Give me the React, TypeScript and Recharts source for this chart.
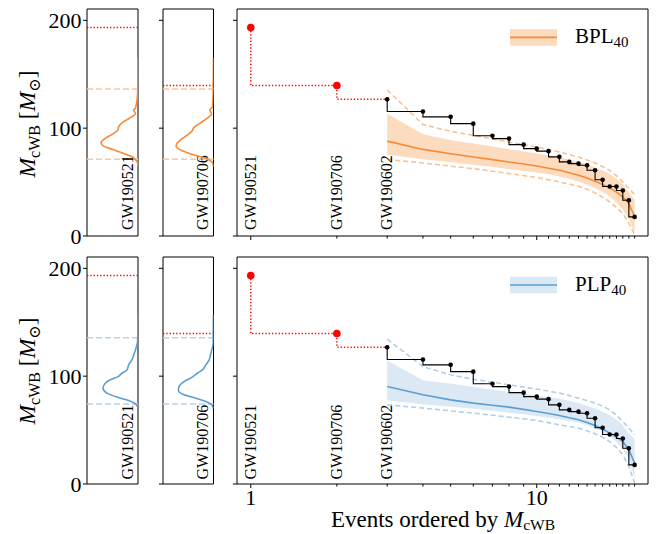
import React from 'react';
import {
  ComposedChart,
  ScatterChart,
  Scatter,
  Line,
  Area,
  XAxis,
  YAxis,
  ReferenceLine,
  ReferenceArea,
} from 'recharts';

const FONT = '"Liberation Serif", "DejaVu Serif", serif';

// events ordered by cWB mass (rank 1..22)
const EVENTS = [1, 2, 3, 4, 5, 6, 7, 8, 9, 10, 11, 12, 13, 14, 15, 16, 17, 18, 19, 20, 21, 22];
const EVENT_NAMES = ['GW190521', 'GW190706', 'GW190602'];
const M_CWB = [193.3, 139.5, 126.7, 115.4, 110.5, 104.2, 93.0, 90.3, 84.7, 81.0, 78.7, 73.4, 68.7, 67.1, 65.6, 61.0, 52.2, 45.9, 45.9, 42.2, 33.1, 17.7];

// BPL_40 prediction for ranks 3..22
const BPL_MED = [88.0, 80.3, 76.3, 73.2, 70.8, 68.6, 66.7, 64.9, 62.9, 60.9, 58.7, 56.3, 53.7, 50.8, 47.8, 44.6, 40.7, 36.3, 30.2, 17.8];
const BPL_LO = [74.8, 70.8, 68.0, 65.6, 63.5, 61.6, 60.0, 58.5, 56.7, 54.8, 52.5, 50.1, 47.2, 44.0, 40.3, 36.3, 30.5, 24.0, 14.8, 2.0];
const BPL_HI = [113.9, 94.8, 89.3, 86.2, 83.5, 81.0, 78.9, 76.9, 75.0, 73.2, 71.3, 69.3, 66.8, 64.0, 61.1, 57.9, 53.5, 48.7, 40.9, 34.0];
const BPL_DLO = [71.1, 67.7, 64.8, 62.5, 60.1, 57.9, 56.0, 54.2, 52.2, 50.1, 48.2, 46.2, 43.3, 40.0, 36.0, 31.7, 26.5, 21.0, 11.7, 1.0];
const BPL_DHI = [135.4, 103.4, 97.0, 93.3, 90.0, 87.1, 84.7, 82.5, 80.1, 77.8, 75.5, 73.2, 70.5, 67.7, 64.5, 60.9, 56.0, 50.1, 44.0, 38.5];

// PLP_40 prediction for ranks 3..22
const PLP_MED = [90.4, 82.7, 78.0, 75.0, 73.0, 71.3, 69.2, 67.2, 65.4, 63.5, 61.5, 59.5, 57.0, 54.3, 51.0, 47.2, 43.5, 39.4, 31.8, 19.4];
const PLP_LO = [77.1, 73.4, 71.2, 69.4, 67.5, 65.7, 64.1, 62.6, 61.0, 59.5, 58.0, 56.5, 54.0, 51.2, 48.0, 44.1, 38.5, 31.8, 22.5, 3.0];
const PLP_HI = [115.0, 96.6, 93.5, 90.4, 88.0, 85.7, 84.2, 82.7, 81.1, 79.6, 77.6, 75.6, 73.0, 70.4, 67.5, 64.2, 60.0, 54.9, 47.2, 42.0];
const PLP_DLO = [73.4, 70.4, 67.8, 65.7, 63.8, 62.0, 60.4, 58.9, 56.9, 54.9, 53.4, 51.9, 49.3, 46.6, 43.3, 39.4, 34.0, 27.1, 16.3, 1.0];
const PLP_DHI = [134.3, 108.9, 101.2, 97.2, 94.4, 91.9, 89.9, 88.0, 86.1, 84.3, 82.0, 79.6, 77.3, 75.0, 72.0, 68.8, 63.8, 58.0, 51.9, 45.6];

// predicted density of the two loudest masses (mass, relative density)
const BPL_PDF1_M = [64, 67.4, 71.1, 73.5, 76.6, 80.4, 83.4, 86.5, 90.5, 95.2, 98.2, 101.3, 106, 110.6, 113.7, 116.8, 118.3, 123, 132, 145, 165];
const BPL_PDF1_D = [0, 0.006, 0.052, 0.118, 0.281, 0.51, 0.673, 0.725, 0.641, 0.477, 0.399, 0.379, 0.281, 0.118, 0.052, 0.085, 0.052, 0.03, 0.008, 0.003, 0.001];
const BPL_PDF2_M = [64, 66.5, 69.5, 72.5, 75.5, 79, 83, 86, 89.5, 93.5, 97.5, 100.5, 104.5, 109, 113.7, 116.8, 120, 130, 145, 165];
const BPL_PDF2_D = [0, 0.006, 0.053, 0.185, 0.417, 0.616, 0.74, 0.72, 0.64, 0.52, 0.42, 0.39, 0.27, 0.13, 0.04, 0.075, 0.02, 0.008, 0.003, 0.001];
const PLP_PDF1_M = [70, 72, 74.4, 77.4, 80.6, 84.3, 88.9, 93.5, 96.6, 99.6, 102.7, 105.8, 110.5, 115.1, 119.7, 125.9, 133.6, 157];
const PLP_PDF1_D = [0, 0.01, 0.052, 0.183, 0.412, 0.608, 0.686, 0.641, 0.542, 0.392, 0.314, 0.216, 0.183, 0.118, 0.085, 0.039, 0.006, 0.001];
const PLP_PDF2_M = [70, 73.4, 76.5, 79.6, 82.7, 86.7, 90.4, 95, 99.6, 102.7, 105.8, 110.5, 115.1, 121.3, 130.6, 157];
const PLP_PDF2_D = [0, 0.033, 0.152, 0.351, 0.583, 0.695, 0.682, 0.583, 0.404, 0.318, 0.219, 0.152, 0.086, 0.053, 0.006, 0.001];

// 90% bounds drawn as dashed lines in the side panels
const BPL_BOUNDS = [71.2, 136.2];
const PLP_BOUNDS = [74.3, 135.7];

const Y_MAX = 210.5;
const Y_TICKS = [0, 100, 200];
const X_DOMAIN = [0.895, 24.5];

const ORANGE = { line: '#f98a35', band: '#fddbbf', dash: '#fbbf8e', side: '#fbc79c' };
const BLUE = { line: '#5a9fd4', band: '#dce9f4', dash: '#aecde6', side: '#b7d4ea' };

const PLOT_H = 227;

function zip(ms: number[], ds: number[]) {
  return ms.map((m, i) => ({ m, d: ds[i] }));
}

const yTick = (showLabel: boolean) => (p: any) => (
  <g key={`yt-${p.index}`}>
    <line x1={p.x - 4} x2={p.x} y1={p.y} y2={p.y} stroke="#000" strokeWidth={1} />
    {showLabel && (
      <text x={p.x - 5.5} y={p.y} dy="0.36em" textAnchor="end" fontFamily={FONT} fontSize={22} fill="#000">
        {p.payload.value}
      </text>
    )}
  </g>
);

const xTick = (showLabel: boolean) => (p: any) => {
  const v = p.payload.value;
  const major = v === 1 || v === 10;
  return (
    <g key={`xt-${p.index}`}>
      <line x1={p.x} x2={p.x} y1={p.y} y2={p.y + (major ? 4 : 2.5)} stroke="#000" strokeWidth={1} />
      {showLabel && major && (
        <text x={p.x} y={p.y + 21} textAnchor="middle" fontFamily={FONT} fontSize={22} fill="#000">
          {v}
        </text>
      )}
    </g>
  );
};

const gwLabel = (name: string, gap: number) => (p: any) => {
  const vb = p.viewBox;
  const x = vb.x + 4.8;
  const y = vb.y + vb.height - gap;
  return (
    <text x={x} y={y} transform={`rotate(-90 ${x} ${y})`} fontFamily={FONT} fontSize={16} fill="#000">
      {name}
    </text>
  );
};

const noShape = () => <g />;

function SidePanel({ plotLeft, plotW, top, pdf, color, bounds, redM, name, labels, gap }: any) {
  const yw = labels ? plotLeft : 30;
  return (
    <div style={{ position: 'absolute', left: plotLeft - yw, top: top - 12 }}>
      <ScatterChart width={yw + plotW + 5} height={PLOT_H + 30} margin={{ top: 12, right: 5, bottom: 18, left: 0 }}>
        <XAxis type="number" dataKey="d" domain={[0, 1]} reversed hide allowDataOverflow />
        <YAxis
          type="number"
          dataKey="m"
          domain={[0, Y_MAX]}
          ticks={Y_TICKS}
          interval={0}
          width={yw}
          axisLine={false}
          tickLine={false}
          tickSize={0}
          tickMargin={0}
          tick={yTick(labels)}
          allowDataOverflow
        />
        <ReferenceLine y={bounds[0]} stroke={color.side} strokeWidth={1.5} strokeDasharray="6 3" />
        <ReferenceLine y={bounds[1]} stroke={color.side} strokeWidth={1.5} strokeDasharray="6 3" />
        <ReferenceLine y={redM} stroke="#ff0000" strokeWidth={1.5} strokeDasharray="1.3 2" />
        <Scatter
          data={pdf}
          line={{ stroke: color.line, strokeWidth: 1.6 }}
          lineJointType="monotoneY"
          shape={noShape}
          isAnimationActive={false}
        />
        <ReferenceLine x={0.2} stroke="none" label={gwLabel(name, gap)} />
        <ReferenceArea x1={0} x2={1} y1={0} y2={Y_MAX} fill="none" stroke="#000" strokeWidth={1} />
      </ScatterChart>
    </div>
  );
}

const RedDot = (p: any) =>
  p.payload.x < 3 ? (
    <circle key={`rd-${p.index}`} cx={p.cx} cy={p.cy} r={3.8} fill="#ff0000" stroke="none" />
  ) : (
    <g key={`rd-${p.index}`} />
  );

function MainPanel({ top, med, lo, hi, dlo, dhi, color, showX, gap }: any) {
  const rows = EVENTS.map((x, i) => ({
    x,
    red: i <= 2 ? M_CWB[i] : null,
    obs: i >= 2 ? M_CWB[i] : null,
    med: i >= 2 ? med[i - 2] : null,
    band: i >= 2 ? [lo[i - 2], hi[i - 2]] : null,
    dlo: i >= 2 ? dlo[i - 2] : null,
    dhi: i >= 2 ? dhi[i - 2] : null,
  }));
  const xh = showX ? 30 : 10;
  return (
    <div style={{ position: 'absolute', left: 207, top: top - 5 }}>
      <ComposedChart width={30 + 411 + 5} height={PLOT_H + xh + 10} data={rows} margin={{ top: 5, right: 5, bottom: 5, left: 0 }}>
        <XAxis
          type="number"
          dataKey="x"
          scale="log"
          domain={X_DOMAIN}
          allowDataOverflow
          ticks={EVENTS}
          interval={0}
          height={xh}
          axisLine={false}
          tickLine={false}
          tickSize={0}
          tickMargin={0}
          tick={xTick(showX)}
        />
        <YAxis
          type="number"
          domain={[0, Y_MAX]}
          ticks={Y_TICKS}
          interval={0}
          width={30}
          axisLine={false}
          tickLine={false}
          tickSize={0}
          tickMargin={0}
          tick={yTick(false)}
          allowDataOverflow
        />
        <Area dataKey="band" type="linear" fill={color.band} fillOpacity={1} stroke="#ffffff" strokeWidth={1} dot={false} activeDot={false} isAnimationActive={false} />
        <Line dataKey="dhi" type="linear" stroke={color.dash} strokeWidth={1.5} strokeDasharray="5 3" dot={false} activeDot={false} isAnimationActive={false} />
        <Line dataKey="dlo" type="linear" stroke={color.dash} strokeWidth={1.5} strokeDasharray="5 3" dot={false} activeDot={false} isAnimationActive={false} />
        <Line dataKey="med" type="linear" stroke={color.line} strokeWidth={1.6} dot={false} activeDot={false} isAnimationActive={false} />
        <Line dataKey="red" type="stepBefore" stroke="#ff0000" strokeWidth={1.5} strokeDasharray="1.3 2" dot={RedDot} activeDot={false} isAnimationActive={false} />
        <Line dataKey="obs" type="stepBefore" stroke="#000" strokeWidth={1.1} dot={{ r: 2.3, fill: '#000', stroke: 'none' }} activeDot={false} isAnimationActive={false} />
        {EVENT_NAMES.map((n, i) => (
          <ReferenceLine key={n} x={EVENTS[i]} stroke="none" label={gwLabel(n, gap)} />
        ))}
        <ReferenceArea x1={X_DOMAIN[0]} x2={X_DOMAIN[1]} y1={0} y2={Y_MAX} fill="none" stroke="#000" strokeWidth={1} />
      </ComposedChart>
    </div>
  );
}

function YTitle({ cx, cy }: { cx: number; cy: number }) {
  return (
    <text x={cx} y={cy} transform={`rotate(-90 ${cx} ${cy})`} textAnchor="middle" fontFamily={FONT} fontSize={23.5} fill="#000">
      <tspan fontStyle="italic">M</tspan>
      <tspan fontSize={16} dy={5}>cWB</tspan>
      <tspan dy={-5}>{'\u00a0['}</tspan>
      <tspan fontStyle="italic">M</tspan>
      <tspan fontSize={16} dy={5}>⊙</tspan>
      <tspan dy={-5}>]</tspan>
    </text>
  );
}

function LegendKey({ y, color, name }: any) {
  return (
    <g>
      <rect x={510} y={y - 8.3} width={47} height={16.6} fill={color.band} />
      <line x1={510} x2={557} y1={y} y2={y} stroke={color.line} strokeWidth={1.6} />
      <text x={575} y={y + 6} fontFamily={FONT} fontSize={21} fill="#000">
        {name}
        <tspan fontSize={15} dy={4}>40</tspan>
      </text>
    </g>
  );
}

export default function App() {
  return (
    <div style={{ position: 'absolute', left: 0, top: 0, width: 656, height: 534, background: '#fff' }}>
      <SidePanel plotLeft={87} plotW={51} top={9} pdf={zip(BPL_PDF1_M, BPL_PDF1_D)} color={ORANGE} bounds={BPL_BOUNDS} redM={M_CWB[0]} name={EVENT_NAMES[0]} labels gap={6} />
      <SidePanel plotLeft={162.5} plotW={50.5} top={9} pdf={zip(BPL_PDF2_M, BPL_PDF2_D)} color={ORANGE} bounds={BPL_BOUNDS} redM={M_CWB[1]} name={EVENT_NAMES[1]} labels={false} gap={6} />
      <MainPanel top={9} med={BPL_MED} lo={BPL_LO} hi={BPL_HI} dlo={BPL_DLO} dhi={BPL_DHI} color={ORANGE} showX={false} gap={6} />

      <SidePanel plotLeft={87} plotW={51} top={257} pdf={zip(PLP_PDF1_M, PLP_PDF1_D)} color={BLUE} bounds={PLP_BOUNDS} redM={M_CWB[0]} name={EVENT_NAMES[0]} labels gap={4.5} />
      <SidePanel plotLeft={162.5} plotW={50.5} top={257} pdf={zip(PLP_PDF2_M, PLP_PDF2_D)} color={BLUE} bounds={PLP_BOUNDS} redM={M_CWB[1]} name={EVENT_NAMES[1]} labels={false} gap={4.5} />
      <MainPanel top={257} med={PLP_MED} lo={PLP_LO} hi={PLP_HI} dlo={PLP_DLO} dhi={PLP_DHI} color={BLUE} showX gap={4.5} />

      <svg width={656} height={534} style={{ position: 'absolute', left: 0, top: 0, pointerEvents: 'none' }}>
        <YTitle cx={35} cy={124} />
        <YTitle cx={35} cy={371} />
        <text x={443} y={527} textAnchor="middle" fontFamily={FONT} fontSize={23} fill="#000">
          Events ordered by <tspan fontStyle="italic">M</tspan>
          <tspan fontSize={15.5} dy={3}>cWB</tspan>
        </text>
        <LegendKey y={37.4} color={ORANGE} name="BPL" />
        <LegendKey y={285} color={BLUE} name="PLP" />
      </svg>
    </div>
  );
}
